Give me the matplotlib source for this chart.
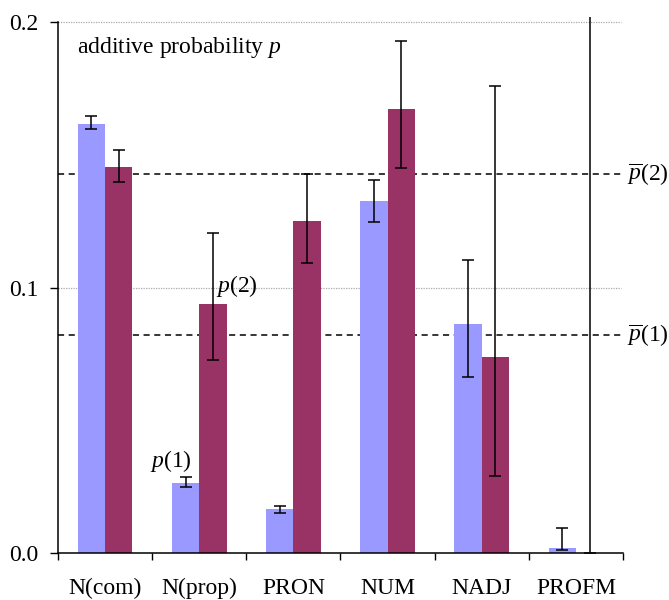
import numpy as np
import matplotlib
matplotlib.use('Agg')
import matplotlib.pyplot as plt

# ======== Data ========

categories = ['N(com)', 'N(prop)', 'PRON', 'NUM', 'NADJ', 'PROFM']

# additive probability p(1) with lower / upper interval bounds
p1 = [0.1616, 0.0265, 0.0166, 0.1326, 0.0863, 0.0019]
p1_lo = [0.1597, 0.0247, 0.0152, 0.1246, 0.0664, 0.0011]
p1_hi = [0.1647, 0.0287, 0.0178, 0.1405, 0.1104, 0.0095]

# additive probability p(2) with lower / upper interval bounds
p2 = [0.1454, 0.0938, 0.1250, 0.1672, 0.0738, 0.0]
p2_lo = [0.1398, 0.0727, 0.1093, 0.1449, 0.0291, 0.0]
p2_hi = [0.1518, 0.1205, 0.1427, 0.1930, 0.1760, 0.2019]

# mean probabilities
p1_mean = 0.0821
p2_mean = 0.1427

yticks = [0.0, 0.1, 0.2]

# ======== Style ========

fs = 17
plt.rcParams['font.family'] = ['Liberation Serif', 'DejaVu Serif']
plt.rcParams['mathtext.fontset'] = 'custom'
plt.rcParams['mathtext.rm'] = 'Liberation Serif'
plt.rcParams['mathtext.it'] = 'Liberation Serif:italic'
plt.rcParams['font.size'] = fs

c1 = '#9999ff'
c2 = '#993366'
w = 0.29

fig = plt.figure(figsize=(6.69, 6.0), dpi=100)
ax = fig.add_axes([0.0867, 0.0783, 0.8445, 0.885])

x = np.arange(len(categories))
ax.bar(x - w / 2, p1, width=w, color=c1, zorder=2)
ax.bar(x + w / 2, p2, width=w, color=c2, zorder=2)

err1 = [np.array(p1) - np.array(p1_lo), np.array(p1_hi) - np.array(p1)]
err2 = [np.array(p2) - np.array(p2_lo), np.array(p2_hi) - np.array(p2)]
ax.errorbar(x - w / 2, p1, yerr=err1, fmt='none', ecolor='black',
            elinewidth=1.1, capsize=4.3, capthick=1.1, zorder=3)
eb = ax.errorbar(x + w / 2, p2, yerr=err2, fmt='none', ecolor='black',
                 elinewidth=1.1, capsize=4.3, capthick=1.1, zorder=3)
for art in eb.lines[1] + eb.lines[2]:
    art.set_clip_on(False)

# the last interval runs off the top of the scale: drop its upper cap
caps_hi = eb.lines[1][1]
xd, yd = caps_hi.get_data()
caps_hi.set_data(xd[:-1], yd[:-1])

# gridlines and means
for yv in [0.1, 0.2]:
    ax.axhline(yv, xmax=0.996, color='#aaaaaa', lw=0.9, ls=(0, (1, 1)), zorder=1, clip_on=False)
for yv, lab in [(p1_mean, r'$\overline{p}$(1)'), (p2_mean, r'$\overline{p}$(2)')]:
    ax.axhline(yv, xmax=0.996, color='black', lw=1.1, ls=(0, (4, 3)), zorder=1)
    ax.text(5.54, yv, lab, ha='left', va='center', fontsize=fs, clip_on=False)

ax.text(-0.3, 0.1883, 'additive probability $p$', fontsize=fs, ha='left', va='baseline')
ax.text(0.48, 0.0325, '$p$(1)', fontsize=fs, ha='left', va='baseline')
ax.text(1.18, 0.0985, '$p$(2)', fontsize=fs, ha='left', va='baseline')

ax.set_xlim(-0.5, 5.5)
ax.set_ylim(0, 0.2)

ax.set_xticks(np.arange(-0.5, 6, 1.0))
ax.set_xticklabels([])
ax.set_xticks(x, minor=True)
ax.set_xticklabels(categories, minor=True)
ax.tick_params(axis='x', which='major', direction='out', length=5, width=1.0)
ax.tick_params(axis='x', which='minor', length=0, pad=18)

ax.set_yticks(yticks)
ax.set_yticklabels(['%.1f' % v for v in yticks])
ax.tick_params(axis='y', direction='out', length=5.8, width=1.0, pad=8)

ax.spines['top'].set_visible(False)
ax.spines['right'].set_visible(False)
for s in ['left', 'bottom']:
    ax.spines[s].set_linewidth(1.1)

fig.savefig('out.png', dpi=100)
